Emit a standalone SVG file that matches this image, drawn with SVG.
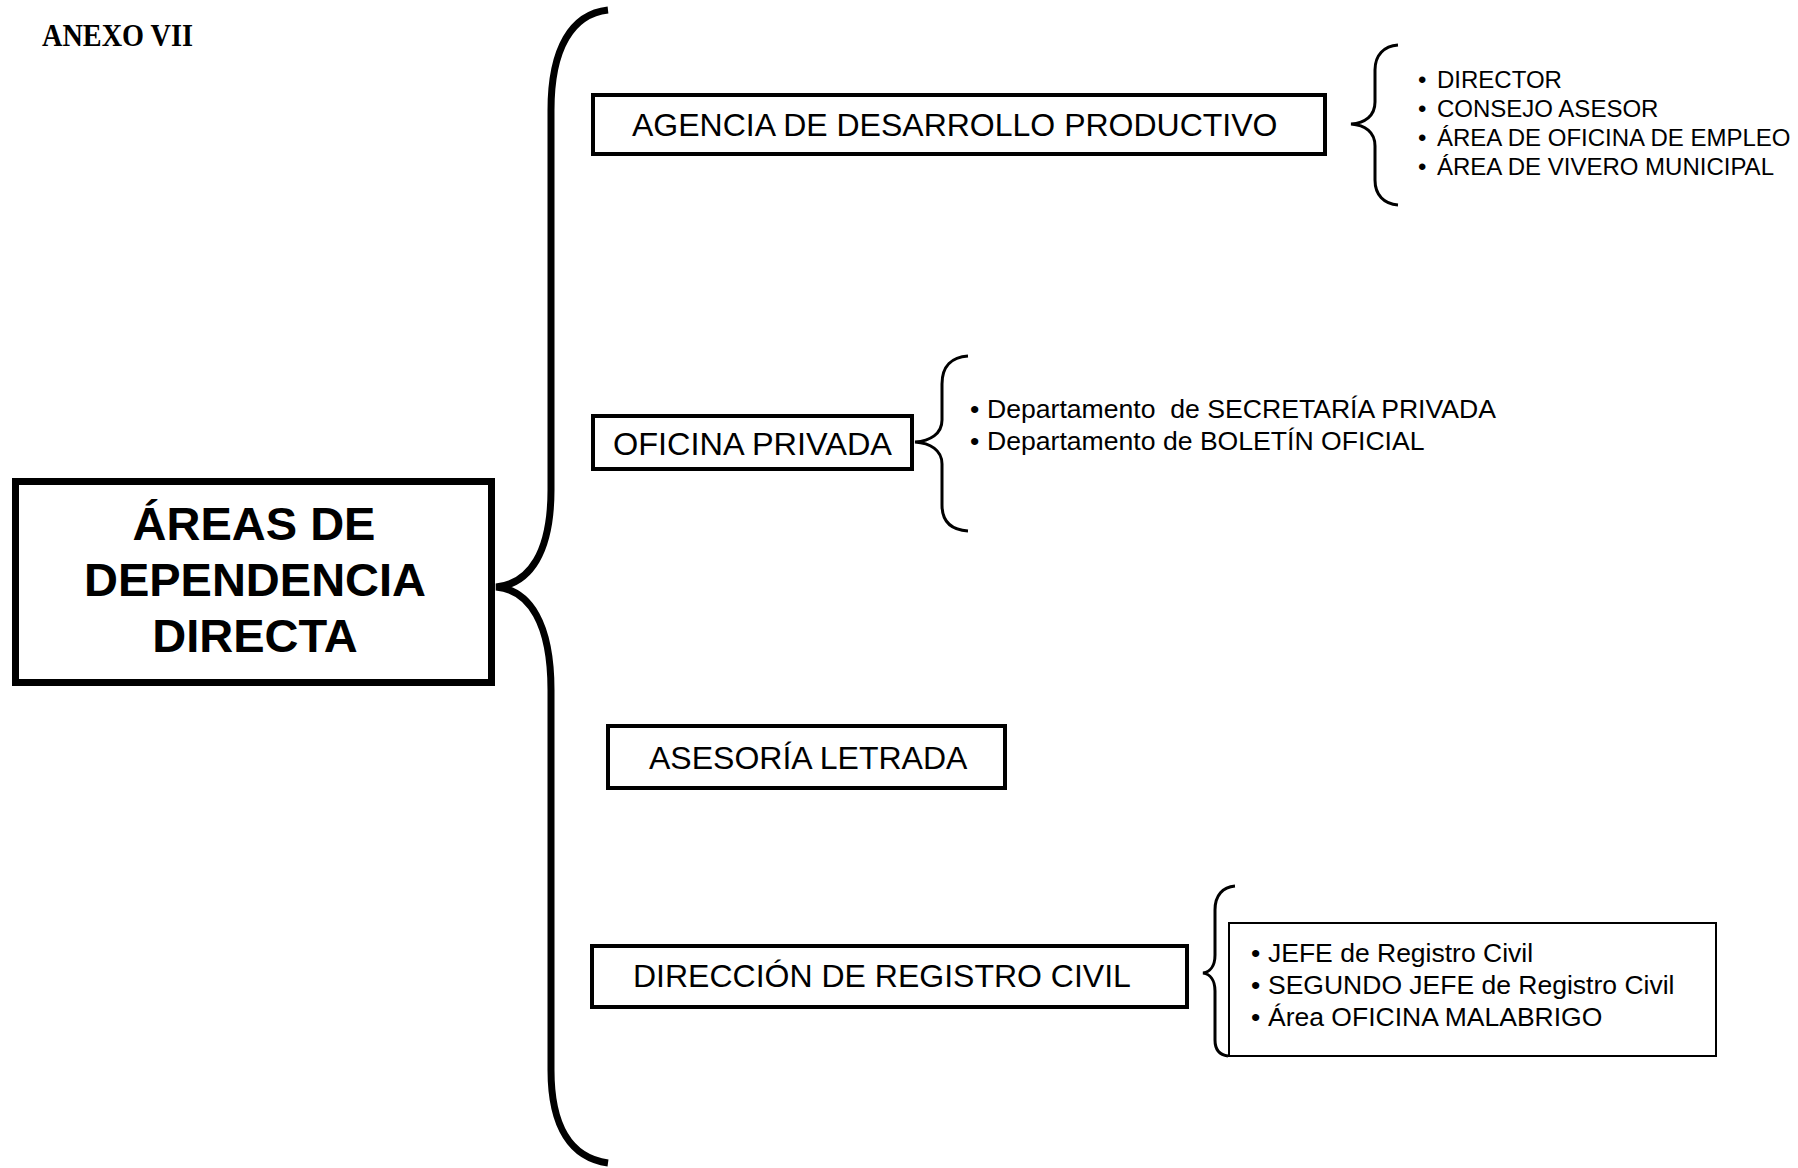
<svg xmlns="http://www.w3.org/2000/svg" width="1798" height="1168" viewBox="0 0 1798 1168">
<style>
.box{fill:#fff;stroke:#000;stroke-width:4}
.lbl{font-family:"Liberation Sans",Arial,sans-serif;font-size:32px;fill:#000}
.item{font-family:"Liberation Sans",Arial,sans-serif;fill:#000;white-space:pre}
.br{fill:none;stroke:#000;stroke-width:3}
</style>
<rect width="1798" height="1168" fill="#fff"/>
<text x="42" y="46" font-family="'Liberation Serif',serif" font-weight="bold" font-size="32" textLength="151" lengthAdjust="spacingAndGlyphs">ANEXO VII</text>
<g id="connectors">
<path d="M608,10 C572,14 551,48 551,110 L551,490 C551,552 530,584 496,587 C530,590 551,624 551,690 L551,1070 C551,1128 572,1158 608,1163" fill="none" stroke="#000" stroke-width="7"/>
<path class="br" d="M1398,45 C1384,46 1375,55 1375,70 L1375,102 C1375,116 1365,123 1351,124 C1365,125 1375,132 1375,146 L1375,180 C1375,195 1384,204 1398,205"/>
<path class="br" d="M968,356 C952,357 942,366 942,384 L942,420 C942,434 930,441 915,442 C930,443 942,450 942,464 L942,505 C942,522 952,530 968,531"/>
<path class="br" d="M1235,886 C1223,887 1215,895 1215,910 L1215,955 C1215,966 1210,972 1203,973 C1210,974 1215,980 1215,991 L1215,1040 C1215,1050 1220,1055 1228,1056"/>
</g>
<g id="main">
<rect x="15.5" y="481.5" width="476" height="201" fill="#fff" stroke="#000" stroke-width="7"/>
<text font-family="'Liberation Sans',Arial,sans-serif" font-weight="bold" font-size="47" text-anchor="middle"><tspan x="254" y="540">ÁREAS DE</tspan><tspan x="255" y="596">DEPENDENCIA</tspan><tspan x="255" y="652">DIRECTA</tspan></text>
</g>
<g id="agencia">
<rect class="box" x="593" y="95" width="732" height="59"/>
<text class="lbl" x="632" y="136">AGENCIA DE DESARROLLO PRODUCTIVO</text>
</g>
<g id="agencia-items">
<text class="item" font-size="24"><tspan x="1418" y="88">•</tspan><tspan x="1437" y="88">DIRECTOR</tspan><tspan x="1418" y="117">•</tspan><tspan x="1437" y="117">CONSEJO ASESOR</tspan><tspan x="1418" y="146">•</tspan><tspan x="1437" y="146">ÁREA DE OFICINA DE EMPLEO</tspan><tspan x="1418" y="175">•</tspan><tspan x="1437" y="175">ÁREA DE VIVERO MUNICIPAL</tspan></text>
</g>
<g id="oficina">
<rect class="box" x="593" y="416" width="319" height="53"/>
<text class="lbl" x="613" y="455" font-size="31" textLength="279" lengthAdjust="spacingAndGlyphs">OFICINA PRIVADA</text>
</g>
<g id="oficina-items">
<text class="item" font-size="26.6"><tspan x="970" y="418">•</tspan><tspan x="987" y="418">Departamento  de SECRETARÍA PRIVADA</tspan><tspan x="970" y="450">•</tspan><tspan x="987" y="450">Departamento de BOLETÍN OFICIAL</tspan></text>
</g>
<g id="asesoria">
<rect class="box" x="608" y="726" width="397" height="62"/>
<text class="lbl" x="649" y="769">ASESORÍA LETRADA</text>
</g>
<g id="registro">
<rect class="box" x="592" y="946" width="595" height="61"/>
<text class="lbl" x="633" y="987">DIRECCIÓN DE REGISTRO CIVIL</text>
</g>
<g id="registro-items">
<rect x="1229" y="923" width="487" height="133" fill="#fff" stroke="#000" stroke-width="2"/>
<text class="item" font-size="26.5"><tspan x="1251" y="962">•</tspan><tspan x="1268" y="962">JEFE de Registro Civil</tspan><tspan x="1251" y="994">•</tspan><tspan x="1268" y="994">SEGUNDO JEFE de Registro Civil</tspan><tspan x="1251" y="1026">•</tspan><tspan x="1268" y="1026">Área OFICINA MALABRIGO</tspan></text>
</g>
</svg>
